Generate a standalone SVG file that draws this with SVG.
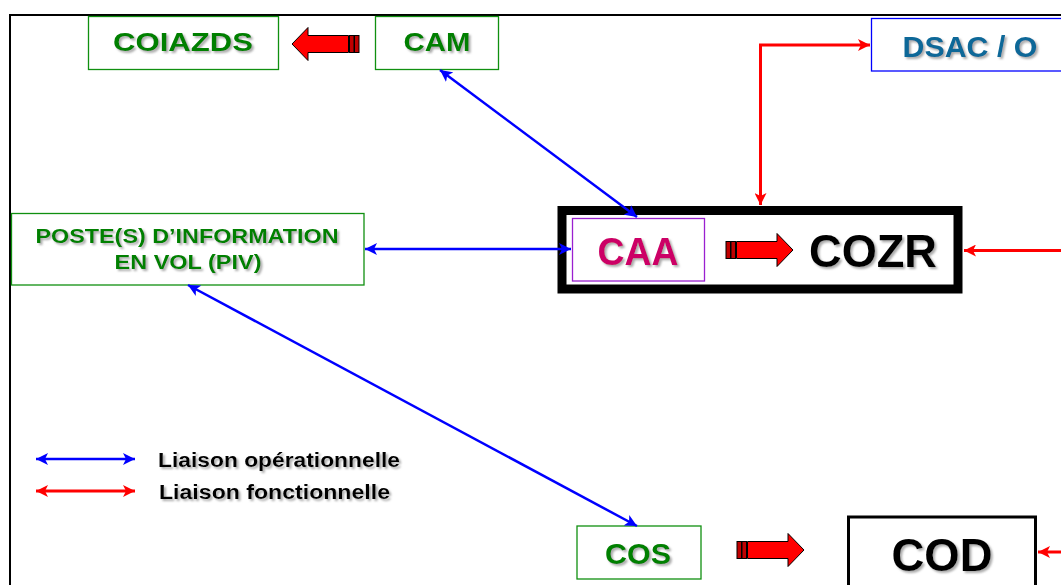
<svg xmlns="http://www.w3.org/2000/svg" xmlns:xlink="http://www.w3.org/1999/xlink" width="1061" height="585" viewBox="0 0 1061 585">
<style>
text{font-family:"Liberation Sans",Arial,sans-serif;font-weight:bold;filter:url(#sh);}
.g{fill:#008000}
.k{fill:#000}
.gbox{fill:#fff;stroke:#109010;stroke-width:1.3}
.blue{stroke:#0000ff;stroke-width:2.5;fill:none;marker-start:url(#mb);marker-end:url(#mb)}
.red{stroke:#ff0000;stroke-width:3;fill:none}
</style>
<defs>
<filter id="sh" x="-10%" y="-10%" width="130%" height="140%">
<feDropShadow dx="2" dy="2" stdDeviation="0.8" flood-color="#888" flood-opacity="0.7"/>
</filter>
<marker id="mb" markerUnits="userSpaceOnUse" markerWidth="14" markerHeight="12" refX="12" refY="6" orient="auto-start-reverse">
<path d="M0,0 L12,6 L0,12 L3,6 Z" fill="#0000ff"/>
</marker>
<marker id="mr" markerUnits="userSpaceOnUse" markerWidth="14" markerHeight="12" refX="12" refY="6" orient="auto-start-reverse">
<path d="M0,0 L12,6 L0,12 L3,6 Z" fill="#ff0000"/>
</marker>
<g id="barrow">
<rect x="0" y="-8.5" width="4.5" height="17" fill="#c00000" stroke="#000" stroke-width="1"/>
<rect x="5" y="-8.5" width="4.5" height="17" fill="#c00000" stroke="#000" stroke-width="1"/>
<path d="M10.5,-8.5 H51 V-16.5 L67,0 L51,16.5 V8.5 H10.5 Z" fill="#ff0000" stroke="#000" stroke-width="1"/>
</g>
</defs>
<rect width="1061" height="585" fill="#fff"/>
<rect id="frame" x="10" y="15" width="1100" height="620" fill="none" stroke="#000" stroke-width="2"/>

<g id="coiazds">
<rect class="gbox" x="88.5" y="16.5" width="190" height="53"/>
<text class="g" x="183" y="51" font-size="26.5" text-anchor="middle" textLength="140" lengthAdjust="spacingAndGlyphs">COIAZDS</text>
</g>
<g id="cam">
<rect class="gbox" x="375.5" y="16.5" width="123" height="53"/>
<text class="g" x="437" y="51" font-size="26.5" text-anchor="middle" textLength="67" lengthAdjust="spacingAndGlyphs">CAM</text>
</g>
<g id="dsac">
<rect x="871.5" y="18.5" width="200" height="52.5" fill="#fff" stroke="#0000ff" stroke-width="1.3"/>
<text x="970" y="57" font-size="29" text-anchor="middle" fill="#0a6898" textLength="135" lengthAdjust="spacingAndGlyphs">DSAC / O</text>
</g>
<g id="cozr">
<rect x="562" y="210.5" width="396" height="78.5" fill="#fff" stroke="#000" stroke-width="9"/>
<text class="k" x="873" y="267" font-size="46" text-anchor="middle" textLength="128" lengthAdjust="spacingAndGlyphs">COZR</text>
</g>
<g id="caa">
<rect x="572.5" y="218.5" width="132" height="62.5" fill="#fff" stroke="#9a20d0" stroke-width="1.3"/>
<text x="638" y="265" font-size="39" text-anchor="middle" fill="#cc0066" textLength="81" lengthAdjust="spacingAndGlyphs">CAA</text>
</g>
<g id="piv">
<rect class="gbox" x="11.5" y="213.5" width="352.5" height="71.5"/>
<text class="g" x="187" y="243" font-size="21" text-anchor="middle" textLength="303" lengthAdjust="spacingAndGlyphs">POSTE(S) D’INFORMATION</text>
<text class="g" x="188" y="269" font-size="21" text-anchor="middle" textLength="147" lengthAdjust="spacingAndGlyphs">EN VOL (PIV)</text>
</g>
<g id="cos">
<rect class="gbox" x="577" y="526" width="124" height="53"/>
<text class="g" x="638" y="564" font-size="30" text-anchor="middle" textLength="66" lengthAdjust="spacingAndGlyphs">COS</text>
</g>
<g id="cod">
<rect x="848.5" y="517" width="187" height="90" fill="#fff" stroke="#000" stroke-width="3"/>
<text class="k" x="942" y="571" font-size="46" text-anchor="middle" textLength="101" lengthAdjust="spacingAndGlyphs">COD</text>
</g>
<g id="legend">
<path class="blue" d="M36,459 H135"/>
<path class="red" d="M36,491 H135" marker-start="url(#mr)" marker-end="url(#mr)"/>
<text class="k" x="158" y="467" font-size="20" textLength="242" lengthAdjust="spacingAndGlyphs">Liaison opérationnelle</text>
<text class="k" x="159" y="499" font-size="20" textLength="231" lengthAdjust="spacingAndGlyphs">Liaison fonctionnelle</text>
</g>

<g id="connectors">
<path class="blue" d="M440,70 L637,217"/>
<path class="blue" d="M365,249 L571,249"/>
<path class="blue" d="M188,285 L637,526"/>
<path class="red" d="M760.5,205 V45 H870" marker-start="url(#mr)" marker-end="url(#mr)"/>
<path class="red" d="M1065,250.5 H964" marker-end="url(#mr)"/>
<path class="red" d="M1065,552 H1038" marker-end="url(#mr)"/>
<use xlink:href="#barrow" transform="translate(359,44) scale(-1,1)"/>
<use xlink:href="#barrow" transform="translate(726,250)"/>
<use xlink:href="#barrow" transform="translate(737,550)"/>
</g>
</svg>
